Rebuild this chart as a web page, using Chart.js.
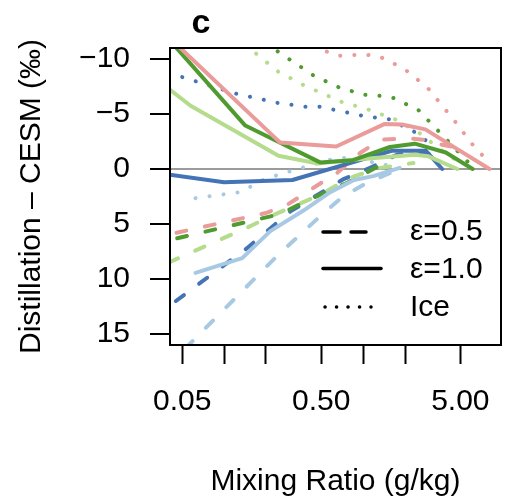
<!DOCTYPE html>
<html>
<head>
<meta charset="utf-8">
<script src="https://cdn.jsdelivr.net/npm/chart.js@4.4.0/dist/chart.umd.min.js"></script>
<style>
  html, body { margin: 0; padding: 0; background: #fff; }
  #wrap { width: 512px; height: 503px; }
</style>
</head>
<body>
<div id="wrap"><canvas id="chartc"></canvas></div>
<script>
// mixing ratio (g/kg) vs distillation - CESM (permil)
const pinkSolidX = [0.04, 0.253, 0.64, 1.43, 1.9, 2.8, 8.1];
const pinkSolidY = [-12.0, -2.4, -2.05, -4.1, -4.05, -3.6, 0.0];
const darkGreenSolidX = [0.04, 0.142, 0.49, 0.845, 1.56, 2.35, 3.93, 6.13];
const darkGreenSolidY = [-11.8, -3.95, -0.6, -0.8, -2.0, -2.3, -1.5, 0.0];
const lightGreenSolidX = [0.04, 0.0574, 0.246, 0.47, 0.85, 2.35, 2.95, 4.75];
const lightGreenSolidY = [-7.3, -5.75, -1.2, -0.5, -0.85, -1.3, -1.15, 0.0];
const darkBlueSolidX = [0.04, 0.1, 0.31, 1.6, 2.83, 3.7];
const darkBlueSolidY = [0.5, 1.2, 1.0, -1.65, -1.65, 0.0];
const lightBlueSolidX = [0.0623, 0.135, 0.215, 0.37, 0.58, 0.86, 1.18, 1.83];
const lightBlueSolidY = [9.45, 8.1, 5.65, 3.8, 2.1, 1.0, 0.65, -0.1];

const pinkDashedX = [0.0455, 0.2, 0.285, 0.44, 0.65, 0.95, 1.33, 2.1, 2.7, 3.7, 4.3];
const pinkDashedY = [5.8, 4.0, 3.25, 1.7, 0.35, -1.45, -2.65, -2.8, -2.65, -2.2, -2.05];
const darkGreenDashedX = [0.046, 0.253, 0.37, 0.77, 1.22, 1.36];
const darkGreenDashedY = [6.3, 4.1, 3.05, 1.25, -0.1, -0.4];
const lightGreenDashedX = [0.04, 0.154, 0.215, 0.49, 0.8, 1.32, 2.3];
const lightGreenDashedY = [8.5, 5.2, 4.3, 2.35, 0.8, -0.1, -0.55];
const darkBlueDashedX = [0.045, 0.146, 0.3, 0.715, 1.12, 1.75, 2.4, 2.95];
const darkBlueDashedY = [12.0, 7.2, 3.85, 0.95, -0.1, -1.3, -1.6, -1.4];
const lightBlueDashedX = [0.0528, 0.245, 0.49, 0.715, 1.07, 1.83];
const lightBlueDashedY = [16.3, 7.8, 4.3, 2.5, 1.25, 0.0];

const pinkDottedX = [0.352, 0.67, 0.81, 1.04, 1.32, 1.57, 2.0, 2.9, 4.5, 6.0, 7.5];
const pinkDottedY = [-11.5, -10.3, -10.35, -10.4, -10.2, -9.75, -9.05, -7.4, -4.45, -2.35, -1.0];
const darkGreenDottedX = [0.2, 0.44, 0.66, 1.01, 1.32, 1.66, 2.5, 4.1, 5.8];
const darkGreenDottedY = [-11.4, -8.5, -7.45, -6.75, -6.65, -6.45, -5.35, -2.5, -0.5];
const lightGreenDottedX = [0.142, 0.245, 0.37, 0.7, 1.09, 1.71, 2.55, 3.7, 4.6];
const lightGreenDottedY = [-11.3, -8.85, -7.65, -6.1, -5.4, -4.5, -3.25, -1.65, -0.85];
const darkBlueDottedX = [0.05, 0.122, 0.245, 0.39, 0.49, 0.98, 1.56, 2.36, 2.96];
const darkBlueDottedY = [-8.35, -6.85, -6.0, -5.65, -5.65, -4.85, -4.5, -3.35, -2.4];
const lightBlueDottedX = [0.0623, 0.131, 0.197, 0.3, 0.578, 0.74, 0.95, 1.48];
const lightBlueDottedY = [2.65, 2.1, 0.9, 0.2, -0.85, -1.0, -0.85, -0.35];

const xTicks = [0.05, 0.1, 0.2, 0.5, 1, 2, 5];
const xTickLabels = ['0.05', '', '', '0.50', '', '', '5.00'];
const yTicks = [-10, -5, 0, 5, 10, 15];
const yTickLabels = ['\u221210', '\u22125', '0', '5', '10', '15'];
const legendLabels = ['\u03b5=0.5', '\u03b5=1.0', 'Ice'];

const FONT = "'Liberation Sans', Arial, Helvetica, sans-serif";
const pink = '#ea9c9b', dkGreen = '#4f9b2f', ltGreen = '#b4dc8c', dkBlue = '#4574b6', ltBlue = '#a8c9e3';
const dashes = { solid: [], dashed: [10, 19], dotted: [0.1, 14] };

const series = [
  [pinkSolidX, pinkSolidY, pink, 'solid'],
  [darkGreenSolidX, darkGreenSolidY, dkGreen, 'solid'],
  [lightGreenSolidX, lightGreenSolidY, ltGreen, 'solid'],
  [darkBlueSolidX, darkBlueSolidY, dkBlue, 'solid'],
  [lightBlueSolidX, lightBlueSolidY, ltBlue, 'solid'],
  [pinkDashedX, pinkDashedY, pink, 'dashed'],
  [darkGreenDashedX, darkGreenDashedY, dkGreen, 'dashed'],
  [lightGreenDashedX, lightGreenDashedY, ltGreen, 'dashed'],
  [darkBlueDashedX, darkBlueDashedY, dkBlue, 'dashed'],
  [lightBlueDashedX, lightBlueDashedY, ltBlue, 'dashed'],
  [pinkDottedX, pinkDottedY, pink, 'dotted'],
  [darkGreenDottedX, darkGreenDottedY, dkGreen, 'dotted'],
  [lightGreenDottedX, lightGreenDottedY, ltGreen, 'dotted'],
  [darkBlueDottedX, darkBlueDottedY, dkBlue, 'dotted'],
  [lightBlueDottedX, lightBlueDottedY, ltBlue, 'dotted'],
];

const datasets = series.map(([xs, ys, color, style]) => ({
  data: xs.map((x, i) => ({ x: x, y: ys[i] })),
  showLine: true,
  borderColor: color,
  backgroundColor: color,
  borderWidth: 4,
  borderDash: dashes[style],
  borderCapStyle: 'round',
  borderJoinStyle: 'round',
  pointRadius: 0,
  pointHoverRadius: 0,
  tension: 0,
  clip: 0,
}));

// box, legend and panel letter
const framePlugin = {
  id: 'frame',
  afterDatasetsDraw(chart) {
    const { ctx, chartArea: a } = chart;
    ctx.save();
    ctx.strokeStyle = '#000';
    ctx.lineWidth = 2;
    ctx.strokeRect(a.left, a.top, a.right - a.left, a.bottom - a.top);

    const legendY = [232, 268.5, 307];
    const legendDash = [[17, 11], [], [0.1, 11.4]];
    const legendEnd = [366, 381, 371];
    ctx.lineCap = 'round';
    ctx.lineWidth = 3.5;
    legendY.forEach((y, i) => {
      ctx.setLineDash(legendDash[i]);
      ctx.beginPath();
      ctx.moveTo(i === 2 ? 325 : 323, y);
      ctx.lineTo(legendEnd[i], y);
      ctx.stroke();
    });
    ctx.setLineDash([]);
    ctx.fillStyle = '#000';
    ctx.font = '30px ' + FONT;
    ctx.textAlign = 'left';
    ctx.textBaseline = 'middle';
    legendLabels.forEach((t, i) => ctx.fillText(t, 410, [232, 270, 308][i]));

    ctx.font = 'bold 34px ' + FONT;
    ctx.textAlign = 'center';
    ctx.textBaseline = 'alphabetic';
    ctx.fillText('c', 201, 33);
    ctx.restore();
  }
};

Chart.defaults.font.family = FONT;
Chart.defaults.color = '#000';

new Chart(document.getElementById('chartc'), {
  type: 'scatter',
  data: { datasets },
  options: {
    responsive: true,
    maintainAspectRatio: false,
    animation: false,
    events: [],
    layout: { padding: { top: 48, right: 11, bottom: 3, left: 0 } },
    plugins: { legend: { display: false }, tooltip: { enabled: false } },
    scales: {
      x: {
        type: 'logarithmic',
        min: 0.04083,
        max: 9.8,
        afterBuildTicks: (s) => { s.ticks = xTicks.map(v => ({ value: v })); },
        afterFit: (s) => { s.height = 155; },
        ticks: {
          autoSkip: false, maxRotation: 0, minRotation: 0, padding: 20,
          font: { size: 30 }, color: '#000',
          callback: (v, i) => xTickLabels[i],
        },
        grid: { drawOnChartArea: false, tickLength: 19, tickWidth: 2, tickColor: '#000' },
        border: { display: false },
        title: { display: true, text: 'Mixing Ratio (g/kg)', font: { size: 30 }, color: '#000', padding: { top: 0, bottom: 0 } },
      },
      y: {
        type: 'linear',
        min: -11,
        max: 16,
        reverse: true,
        afterBuildTicks: (s) => { s.ticks = yTicks.map(v => ({ value: v })); },
        afterFit: (s) => { s.width = 170; },
        ticks: {
          autoSkip: false, padding: 20, font: { size: 30 }, color: '#000',
          callback: (v, i) => yTickLabels[i],
        },
        grid: {
          color: (c) => (c.tick && c.tick.value === 0 ? '#9b9b9b' : 'rgba(0,0,0,0)'),
          lineWidth: 2, tickLength: 20, tickWidth: 2, tickColor: '#000',
        },
        border: { display: false },
        title: { display: true, text: 'Distillation \u2013 CESM (\u2030)', font: { size: 30 }, color: '#000', padding: { top: 14, bottom: 0 } },
      },
    },
  },
  plugins: [framePlugin],
});
</script>
</body>
</html>
